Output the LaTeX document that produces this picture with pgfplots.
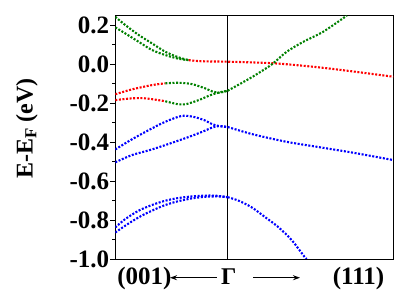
\documentclass[border=0pt]{standalone}
\usepackage{fontspec}
\setmainfont{Liberation Serif}
\usepackage{pgfplots}
\pgfplotsset{compat=1.18}
\usetikzlibrary{arrows.meta}
\definecolor{bgreen}{RGB}{0,128,0}
\definecolor{bred}{RGB}{255,0,0}
\definecolor{bblue}{RGB}{0,0,255}
\begin{document}
\begin{tikzpicture}
\begin{axis}[
  scale only axis, width=278pt, height=243.7pt,
  xmin=0, xmax=278, ymin=-1.0, ymax=0.25,
  xtick=\empty,
  ytick={-1.0,-0.8,-0.6,-0.4,-0.2,0.0,0.2},
  yticklabels={-1.0,-0.8,-0.6,-0.4,-0.2,0.0,0.2},
  minor ytick={-0.9,-0.7,-0.5,-0.3,-0.1,0.1},
  ytick pos=left, tick align=outside,
  major tick length=5pt, minor tick length=3pt,
  tick style={line width=0.8pt, black},
  axis line style={line width=0.9pt},
  yticklabel style={font=\fontsize{25}{29}\selectfont\bfseries, inner sep=1pt},
  ylabel={E-E\textsubscript{F} (eV)},
  ylabel style={at={(axis description cs:-0.318,0.5355)}, anchor=center, font=\fontsize{24}{28}\selectfont\bfseries},
  clip mode=individual,
  dots/.style={smooth, line width=2.1pt, dash pattern=on 2pt off 1.6pt, line cap=butt},
]
% Gamma line
\addplot[black, line width=0.8pt] coordinates {(112.4,-1.0) (112.4,0.25)};
% green bands (top left)
\addplot[bgreen, dots] coordinates {(0,0.242) (10,0.20) (23.4,0.149) (36.7,0.106) (50,0.063) (63.4,0.034) (73.4,0.020)};
\addplot[bgreen, dots] coordinates {(0,0.188) (10,0.157) (23.4,0.114) (36.7,0.072) (50,0.046) (63.4,0.027) (73.4,0.020)};
% red flat band
\addplot[bred, dots] coordinates {(73.4,0.020) (83.4,0.015) (97,0.013) (112.4,0.012) (158,0.004) (198,-0.014) (231.4,-0.034) (278,-0.065)};
% green rising band right of Gamma
\addplot[bgreen, dots] coordinates {(112.4,-0.137) (134.7,-0.073) (148,-0.031) (158,0.004) (171.4,0.063) (188,0.114) (208,0.166) (231.4,0.248)};
% lower red/green bands left
\addplot[bred, dots] coordinates {(0,-0.155) (16.7,-0.130) (36.7,-0.108) (50,-0.099)};
\addplot[bgreen, dots] coordinates {(50,-0.099) (63.4,-0.096) (76.7,-0.103) (90,-0.125) (96.7,-0.140) (103.4,-0.147) (108,-0.143) (112.4,-0.137)};
\addplot[bred, dots] coordinates {(0,-0.185) (16.7,-0.176) (30,-0.176) (46.7,-0.188) (50,-0.191)};
\addplot[bgreen, dots] coordinates {(50,-0.191) (63.4,-0.207) (70,-0.207) (83.4,-0.185) (93.4,-0.163) (100,-0.151) (106,-0.143) (112.4,-0.137)};
% blue upper pair
\addplot[bblue, dots] coordinates {(0,-0.438) (16.7,-0.386) (36.7,-0.330) (50,-0.296) (63.4,-0.270) (70,-0.265) (80,-0.273) (90,-0.290) (96.7,-0.308) (103.4,-0.318) (112.4,-0.323)};
\addplot[bblue, dots] coordinates {(0,-0.504) (16.7,-0.467) (36.7,-0.438) (56.7,-0.404) (76.7,-0.368) (90,-0.341) (96.7,-0.326) (103.4,-0.318) (112.4,-0.323)};
\addplot[bblue, dots] coordinates {(112.4,-0.323) (138,-0.361) (171.4,-0.399) (204.7,-0.427) (238,-0.455) (277.4,-0.492)};
% blue lower pair
\addplot[bblue, dots] coordinates {(0,-0.838) (10,-0.795) (23.4,-0.752) (36.7,-0.723) (50,-0.701) (63.4,-0.687) (76.7,-0.679) (90,-0.675) (100,-0.675) (112.4,-0.683)};
\addplot[bblue, dots] coordinates {(0,-0.864) (10,-0.829) (23.4,-0.786) (36.7,-0.752) (50,-0.723) (63.4,-0.703) (76.7,-0.689) (90,-0.681) (103.4,-0.679) (112.4,-0.683)};
\addplot[bblue, dots] coordinates {(112.4,-0.683) (123.4,-0.701) (136.7,-0.736) (150,-0.786) (163.4,-0.838) (176.7,-0.905) (189.4,-0.99) (191.7,-1.0)};
% x labels
\node[anchor=base, font=\fontsize{25}{29}\selectfont\bfseries] at (axis cs:29.2,-1.133) {(001)};
\node[anchor=base, font=\fontsize{25}{29}\selectfont\bfseries] at (axis cs:243.2,-1.133) {(111)};
\node[anchor=base, font=\fontsize{24}{28}\selectfont\bfseries] at (axis cs:113.5,-1.133) {Γ};
\draw[-{Stealth[length=7pt,width=5pt]}, line width=1.5pt] (axis cs:101.4,-1.096) -- (axis cs:54.7,-1.096);
\draw[-{Stealth[length=7pt,width=5pt]}, line width=1.5pt] (axis cs:138,-1.096) -- (axis cs:184.7,-1.096);
\end{axis}
\pgfresetboundingbox
\path (-115.3pt,-46pt) rectangle (299.7pt,259pt);
\end{tikzpicture}
\end{document}
